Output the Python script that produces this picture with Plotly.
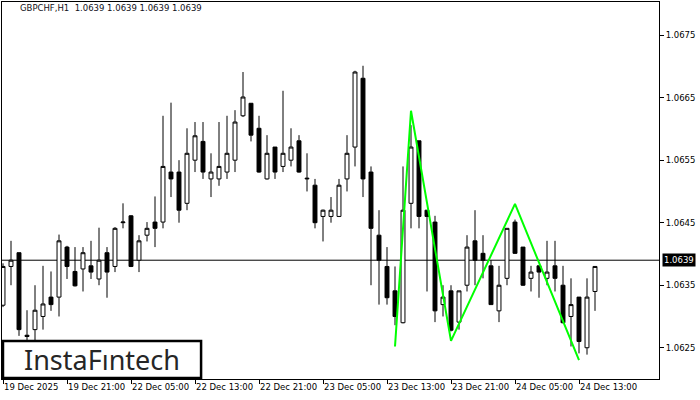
import plotly.graph_objects as go

# ---- data ----
symbol_title = "GBPCHF,H1  1.0639 1.0639 1.0639 1.0639"
current_price = 1.0639

opens = [1.06318, 1.06380, 1.06402, 1.06270, 1.06279, 1.06300, 1.06331, 1.06331, 1.06411, 1.06372,
         1.06376, 1.06381, 1.06360, 1.06402, 1.06380, 1.06450, 1.06461, 1.06390, 1.06430, 1.06451,
         1.06451, 1.06531, 1.06531, 1.06481, 1.06550, 1.06580, 1.06520, 1.06520, 1.06531, 1.06550,
         1.06621, 1.06641, 1.06601, 1.06520, 1.06571, 1.06540, 1.06550, 1.06581, 1.06520, 1.06510,
         1.06460, 1.06460, 1.06460, 1.06520, 1.06571, 1.06681, 1.06531, 1.06430, 1.06380, 1.06341,
         1.06290, 1.06481, 1.06581, 1.06470, 1.06451, 1.06319, 1.06341, 1.06291, 1.06350, 1.06421,
         1.06401, 1.06381, 1.06309, 1.06361, 1.06451, 1.06411, 1.06361, 1.06381, 1.06361, 1.06381,
         1.06350, 1.06300, 1.06331, 1.06250, 1.06340]
highs = [1.06385, 1.06421, 1.06402, 1.06310, 1.06350, 1.06381, 1.06372, 1.06431, 1.06413, 1.06411,
         1.06411, 1.06421, 1.06442, 1.06411, 1.06443, 1.06481, 1.06462, 1.06430, 1.06451, 1.06492,
         1.06621, 1.06642, 1.06550, 1.06601, 1.06611, 1.06611, 1.06561, 1.06611, 1.06621, 1.06630,
         1.06691, 1.06641, 1.06621, 1.06590, 1.06571, 1.06661, 1.06601, 1.06590, 1.06561, 1.06520,
         1.06471, 1.06491, 1.06520, 1.06590, 1.06693, 1.06701, 1.06540, 1.06470, 1.06411, 1.06380,
         1.06540, 1.06606, 1.06581, 1.06470, 1.06461, 1.06350, 1.06350, 1.06341, 1.06430, 1.06470,
         1.06430, 1.06390, 1.06381, 1.06441, 1.06455, 1.06411, 1.06381, 1.06381, 1.06421, 1.06421,
         1.06381, 1.06361, 1.06331, 1.06361, 1.06380]
lows = [1.06315, 1.06350, 1.06269, 1.06255, 1.06255, 1.06279, 1.06309, 1.06300, 1.06360, 1.06348,
        1.06340, 1.06360, 1.06350, 1.06330, 1.06371, 1.06441, 1.06379, 1.06371, 1.06420, 1.06411,
        1.06441, 1.06491, 1.06450, 1.06470, 1.06531, 1.06520, 1.06491, 1.06509, 1.06520, 1.06531,
        1.06619, 1.06580, 1.06530, 1.06519, 1.06520, 1.06531, 1.06540, 1.06530, 1.06500, 1.06441,
        1.06420, 1.06450, 1.06459, 1.06500, 1.06540, 1.06491, 1.06350, 1.06319, 1.06319, 1.06286,
        1.06289, 1.06441, 1.06441, 1.06340, 1.06291, 1.06300, 1.06276, 1.06279, 1.06340, 1.06350,
        1.06361, 1.06319, 1.06291, 1.06350, 1.06400, 1.06349, 1.06340, 1.06330, 1.06350, 1.06340,
        1.06289, 1.06252, 1.06241, 1.06239, 1.06309]
closes = [1.06380, 1.06390, 1.06279, 1.06268, 1.06310, 1.06320, 1.06319, 1.06421, 1.06380, 1.06349,
          1.06402, 1.06371, 1.06390, 1.06371, 1.06441, 1.06451, 1.06380, 1.06421, 1.06441, 1.06441,
          1.06540, 1.06520, 1.06470, 1.06561, 1.06589, 1.06531, 1.06531, 1.06540, 1.06561, 1.06611,
          1.06651, 1.06590, 1.06531, 1.06561, 1.06531, 1.06561, 1.06571, 1.06531, 1.06521, 1.06450,
          1.06470, 1.06470, 1.06510, 1.06561, 1.06691, 1.06520, 1.06441, 1.06390, 1.06330, 1.06300,
          1.06470, 1.06571, 1.06460, 1.06460, 1.06309, 1.06331, 1.06278, 1.06341, 1.06411, 1.06390,
          1.06390, 1.06319, 1.06350, 1.06441, 1.06401, 1.06350, 1.06371, 1.06371, 1.06371, 1.06361,
          1.06290, 1.06319, 1.06260, 1.06331, 1.06380]

tick_positions = [0, 8, 16, 24, 32, 40, 48, 56, 64, 72]
tick_labels = ["19 Dec 2025", "19 Dec 21:00", "22 Dec 05:00", "22 Dec 13:00", "22 Dec 21:00",
               "23 Dec 05:00", "23 Dec 13:00", "23 Dec 21:00", "24 Dec 05:00", "24 Dec 13:00"]
price_ticks = [1.0625, 1.0635, 1.0645, 1.0655, 1.0665, 1.0675]

# triple-bottom pattern line (bar index, price)
pattern_x = [49, 51, 56, 64, 72]
pattern_y = [1.06252, 1.06629, 1.06261, 1.06480, 1.06230]

bars = list(range(len(opens)))

fig = go.Figure()
fig.add_trace(go.Candlestick(
    x=bars, open=opens, high=highs, low=lows, close=closes,
    increasing=dict(fillcolor="white", line=dict(color="black", width=1)),
    decreasing=dict(fillcolor="black", line=dict(color="black", width=1)),
    whiskerwidth=0, showlegend=False, hoverinfo="skip",
))
fig.add_trace(go.Scatter(
    x=pattern_x, y=pattern_y, mode="lines",
    line=dict(color="#00ff00", width=2), showlegend=False, hoverinfo="skip",
))

font_main = "DejaVu Sans, Verdana, sans-serif"

fig.update_layout(
    width=700, height=400,
    margin=dict(l=2, r=41, t=2, b=21, autoexpand=False),
    paper_bgcolor="white", plot_bgcolor="white",
    font=dict(family=font_main, size=8.5, color="black"),
    showlegend=False,
    xaxis=dict(
        range=[-0.125, 82], rangeslider=dict(visible=False),
        tickmode="array", tickvals=tick_positions, ticktext=tick_labels,
        ticks="outside", ticklen=4, tickcolor="black", ticklabelposition="outside right",
        tickangle=0, automargin=False,
        showgrid=False, zeroline=False,
        showline=True, linecolor="black", linewidth=1, mirror=True,
        tickfont=dict(family=font_main, size=8.5, color="black"),
    ),
    yaxis=dict(
        side="right", range=[1.06200, 1.06803], automargin=False,
        tickmode="array", tickvals=price_ticks, ticktext=[f"{v:.4f}" for v in price_ticks],
        ticks="outside", ticklen=4, tickcolor="black",
        showgrid=False, zeroline=False,
        showline=True, linecolor="black", linewidth=1, mirror=True,
        tickfont=dict(family=font_main, size=8.5, color="black"),
    ),
    shapes=[
        dict(type="line", xref="paper", x0=0, x1=1, yref="y", y0=current_price, y1=current_price,
             line=dict(color="black", width=1), layer="below"),
        dict(type="rect", xref="paper", yref="paper", x0=0.0015, x1=0.303, y0=0.0027, y1=0.1008,
             fillcolor="white", line=dict(color="black", width=2.5), layer="above"),
    ],
    annotations=[
        dict(text=symbol_title, xref="paper", yref="paper", x=0.025, y=0.985,
             xanchor="left", yanchor="middle", showarrow=False,
             font=dict(family=font_main, size=8.5, color="#101020")),
        dict(text=f"{current_price:.4f}", xref="paper", yref="y", x=1.004, y=current_price,
             xanchor="left", yanchor="middle", showarrow=False, bgcolor="black", borderpad=1,
             font=dict(family=font_main, size=8.5, color="white")),
        dict(text="InstaF\u0131ntech", xref="paper", yref="paper", x=0.1522, y=0.0517,
             xanchor="center", yanchor="middle", showarrow=False,
             font=dict(family="Noto Sans, Open Sans, sans-serif", size=27, color="#262626")),
    ],
)

fig.write_html(
    "out.html",
    config={"displayModeBar": False},
    post_script="document.body.style.margin='0';document.body.style.overflow='hidden';",
)
